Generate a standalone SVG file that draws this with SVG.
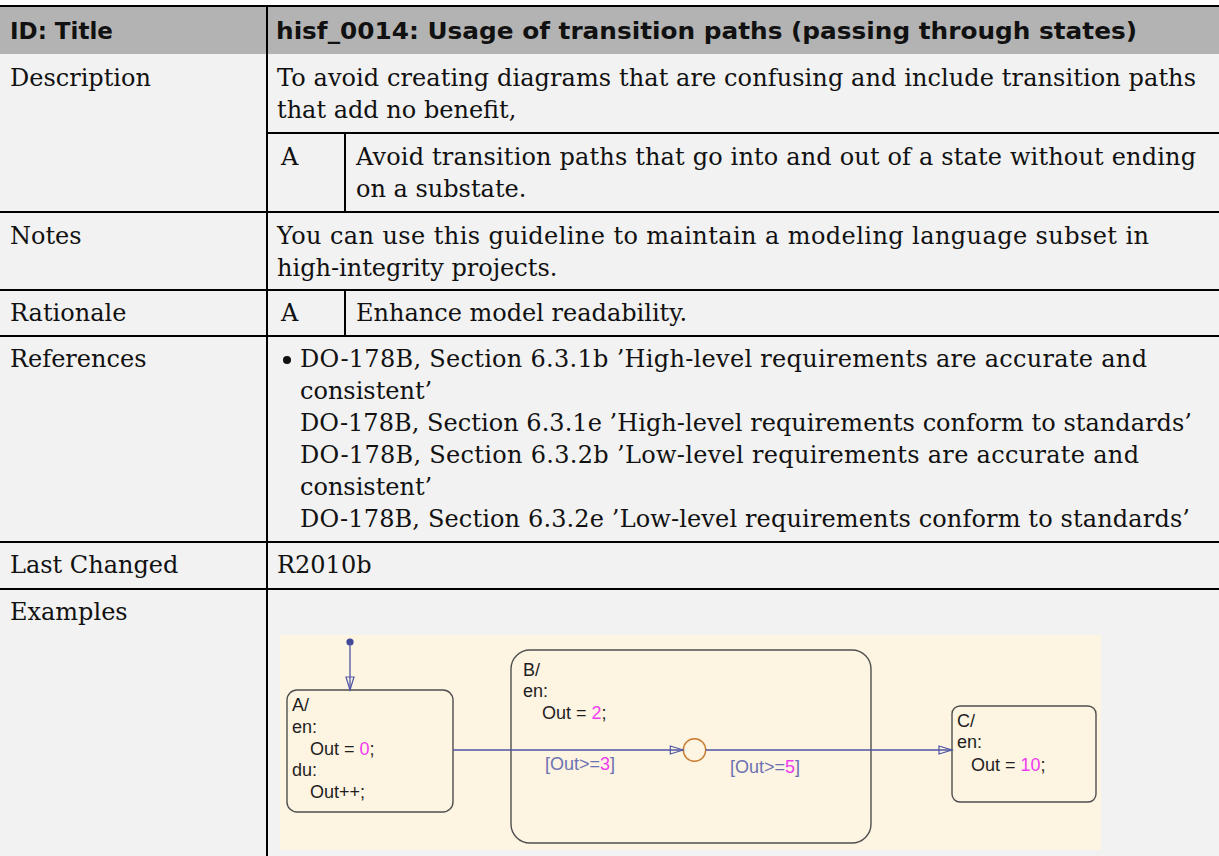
<svg xmlns="http://www.w3.org/2000/svg" width="1219" height="856" viewBox="0 0 1219 856">
  <style>
    .rule { stroke: #000; stroke-width: 2; fill: none; }
    .hd { font-family: "DejaVu Sans", "Liberation Sans", sans-serif; font-weight: bold; font-size: 23px; fill: #111; }
    .tx { font-family: "DejaVu Serif", "Liberation Serif", serif; font-size: 24px; fill: #111; }
    .st { font-family: "Liberation Sans", Arial, sans-serif; font-size: 18px; fill: #1e1e1e; }
    .num { fill: #f03cf0; }
    .lbl { font-family: "Liberation Sans", Arial, sans-serif; font-size: 18px; fill: #6c72b2; }
    .state { fill: none; stroke: #4f4f4f; stroke-width: 1.4; }
    .wire { stroke: #4e56a4; stroke-width: 1.3; fill: none; }
  </style>
  <defs>
    <marker id="open-arrow" markerUnits="userSpaceOnUse" viewBox="-1 -6 16 12" markerWidth="16" markerHeight="12" refX="13" refY="0" orient="auto">
      <path d="M0,-4 L13,0 L0,4 Z" fill="none" stroke="#4e56a4" stroke-width="1.2"/>
    </marker>
  </defs>

  <!-- page and table backgrounds -->
  <rect x="0" y="0" width="1219" height="856" fill="#ffffff"/>
  <rect x="0" y="6" width="1219" height="48" fill="#b3b3b3"/>
  <rect x="0" y="54" width="1219" height="802" fill="#f2f2f2"/>

  <!-- table rules -->
  <g id="table-rules">
    <line class="rule" x1="0" y1="6" x2="1219" y2="6" stroke-width="2.5"/>
    <line class="rule" x1="267" y1="133" x2="1219" y2="133"/>
    <line class="rule" x1="0" y1="212" x2="1219" y2="212"/>
    <line class="rule" x1="0" y1="290" x2="1219" y2="290"/>
    <line class="rule" x1="0" y1="336" x2="1219" y2="336"/>
    <line class="rule" x1="0" y1="542" x2="1219" y2="542"/>
    <line class="rule" x1="0" y1="589" x2="1219" y2="589"/>
    <line class="rule" x1="267" y1="6" x2="267" y2="856"/>
    <line class="rule" x1="345" y1="133" x2="345" y2="212"/>
    <line class="rule" x1="345" y1="290" x2="345" y2="336"/>
  </g>

  <g id="row-header">
    <text class="hd" x="10" y="39">ID: Title</text>
    <text class="hd" x="276" y="39" textLength="861" lengthAdjust="spacingAndGlyphs">hisf_0014: Usage of transition paths (passing through states)</text>
  </g>

  <g id="row-description">
    <text class="tx" x="10" y="86">Description</text>
    <text class="tx" x="277" y="86" textLength="919" lengthAdjust="spacing">To avoid creating diagrams that are confusing and include transition paths</text>
    <text class="tx" x="277" y="118">that add no benefit,</text>
    <text class="tx" x="281" y="165">A</text>
    <text class="tx" x="356" y="165" textLength="840" lengthAdjust="spacing">Avoid transition paths that go into and out of a state without ending</text>
    <text class="tx" x="356" y="197">on a substate.</text>
  </g>

  <g id="row-notes">
    <text class="tx" x="10" y="244">Notes</text>
    <text class="tx" x="277" y="244" textLength="872" lengthAdjust="spacing">You can use this guideline to maintain a modeling language subset in</text>
    <text class="tx" x="277" y="276">high-integrity projects.</text>
  </g>

  <g id="row-rationale">
    <text class="tx" x="10" y="321">Rationale</text>
    <text class="tx" x="281" y="321">A</text>
    <text class="tx" x="356" y="321">Enhance model readability.</text>
  </g>

  <g id="row-references">
    <text class="tx" x="10" y="367">References</text>
    <circle cx="287" cy="360" r="4" fill="#111"/>
    <text class="tx" x="300" y="367" textLength="847" lengthAdjust="spacing">DO-178B, Section 6.3.1b ’High-level requirements are accurate and</text>
    <text class="tx" x="300" y="399">consistent’</text>
    <text class="tx" x="300" y="431" textLength="892" lengthAdjust="spacing">DO-178B, Section 6.3.1e ’High-level requirements conform to standards’</text>
    <text class="tx" x="300" y="463" textLength="839" lengthAdjust="spacing">DO-178B, Section 6.3.2b ’Low-level requirements are accurate and</text>
    <text class="tx" x="300" y="495">consistent’</text>
    <text class="tx" x="300" y="527" textLength="890" lengthAdjust="spacing">DO-178B, Section 6.3.2e ’Low-level requirements conform to standards’</text>
  </g>

  <g id="row-last-changed">
    <text class="tx" x="10" y="573">Last Changed</text>
    <text class="tx" x="277" y="573">R2010b</text>
  </g>

  <g id="row-examples">
    <text class="tx" x="10" y="620">Examples</text>
  </g>

  <!-- Stateflow chart -->
  <rect id="chart-canvas" x="280" y="635" width="821" height="215" fill="#fef4e2"/>

  <g id="state-A">
    <rect class="state" x="287" y="690" width="166" height="122" rx="10" ry="10"/>
    <text class="st" x="292" y="711">A/</text>
    <text class="st" x="292" y="733">en:</text>
    <text class="st" x="310" y="755">Out = <tspan class="num">0</tspan>;</text>
    <text class="st" x="292" y="776">du:</text>
    <text class="st" x="310" y="798">Out++;</text>
  </g>

  <g id="state-B">
    <rect class="state" x="511" y="650" width="360" height="193" rx="19" ry="19"/>
    <text class="st" x="523" y="676">B/</text>
    <text class="st" x="523" y="697">en:</text>
    <text class="st" x="542" y="719">Out = <tspan class="num">2</tspan>;</text>
  </g>

  <g id="state-C">
    <rect class="state" x="952" y="706" width="144" height="96" rx="8" ry="8"/>
    <text class="st" x="957" y="727">C/</text>
    <text class="st" x="957" y="748">en:</text>
    <text class="st" x="971" y="771">Out = <tspan class="num">10</tspan>;</text>
  </g>

  <g id="junction">
    <circle cx="694.5" cy="750" r="11.2" fill="none" stroke="#c87c30" stroke-width="1.4"/>
  </g>

  <g id="connectors">
    <circle cx="350" cy="642" r="3.6" fill="#3f4796"/>
    <line class="wire" x1="350" y1="642" x2="350" y2="690" marker-end="url(#open-arrow)"/>
    <line class="wire" x1="453" y1="750" x2="683.3" y2="750" marker-end="url(#open-arrow)"/>
    <line class="wire" x1="705.7" y1="750" x2="952" y2="750" marker-end="url(#open-arrow)"/>
    <text class="lbl" x="545" y="770">[Out&gt;=<tspan class="num">3</tspan>]</text>
    <text class="lbl" x="730" y="773">[Out&gt;=<tspan class="num">5</tspan>]</text>
  </g>
</svg>
